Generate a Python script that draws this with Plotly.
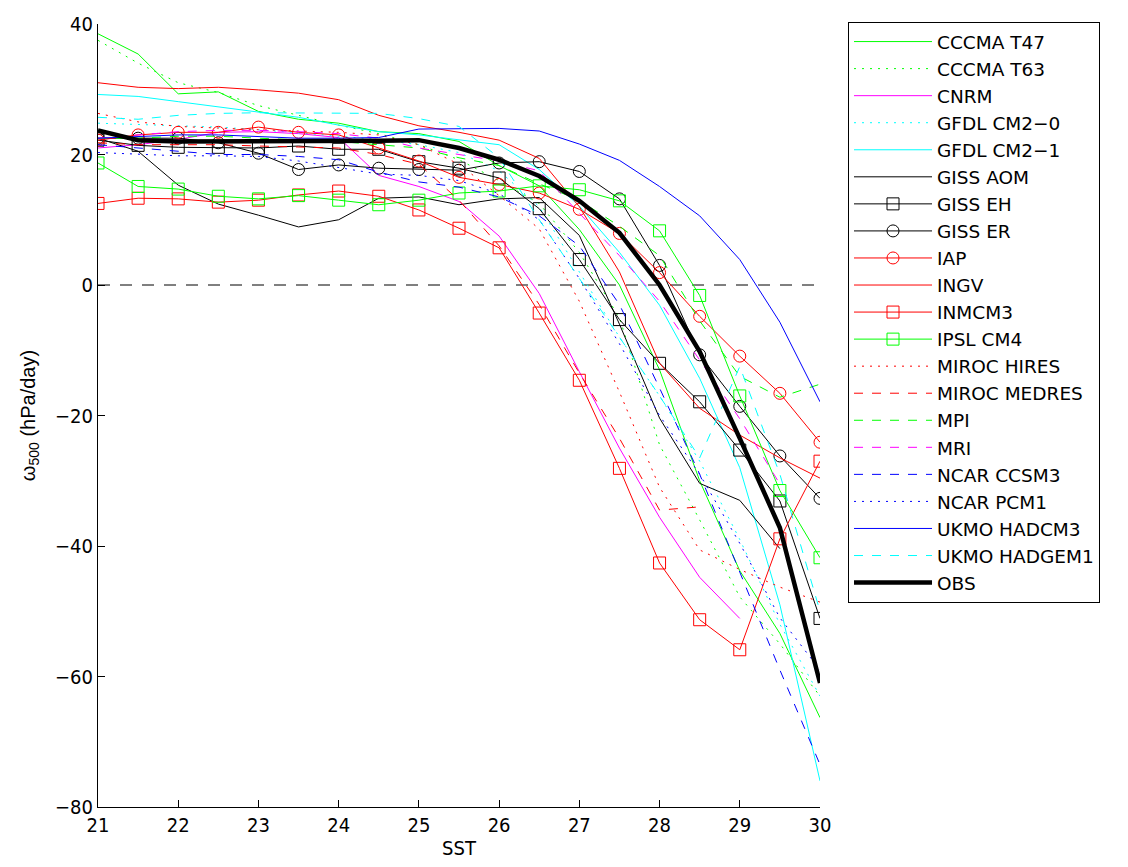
import plotly.graph_objects as go

sst = [21, 21.5, 22, 22.5, 23, 23.5, 24, 24.5, 25, 25.5, 26, 26.5, 27, 27.5, 28, 28.5, 29, 29.5, 30]

cccma_t47 = [38.5, 35.4, 29.3, 29.6, 26.6, 25.4, 24.8, 23.5, 23.2, 22.0, 18.3, 15.2, 8.5, 0.0, -13.0, -30.0, -43.8, -53.4, -66.3]
cccma_t63 = [37.5, 34.0, 31.0, 29.5, 27.5, 26.0, 24.5, 23.2, 21.5, 19.2, 16.0, 12.5, 5.0, -5.0, -24.5, -36.0, -47.8, -55.0, -63.0]
cnrm = [21.0, 21.5, 22.3, 23.4, 23.5, 23.2, 22.6, 16.8, 15.1, 12.8, 7.5, -1.3, -13.3, -25.0, -35.6, -44.8, -51.1, None, None]
gfdl_cm20 = [24.8, 24.6, 24.4, 24.2, 23.8, 23.3, 22.8, 22.3, 21.5, 20.3, 17.5, 12.0, 2.0, -8.0, -17.0, -27.0, -39.0, -52.0, -63.0]
gfdl_cm21 = [29.2, 28.9, 28.1, 27.3, 26.6, 25.7, 24.5, 23.5, 23.0, 22.3, 21.5, 17.7, 12.1, 5.0, -3.1, -14.3, -28.0, -49.0, -76.0]
giss_aom = [22.5, 20.5, 15.3, 12.4, 10.7, 8.9, 10.0, 13.3, 13.5, 12.3, 13.2, 13.4, 7.6, -6.0, -20.4, -30.4, -33.0, -40.4, None]
giss_eh = [22.2, 21.4, 21.1, 21.1, 21.0, 21.3, 20.8, 20.8, 18.9, 17.9, 16.4, 11.7, 3.9, -5.3, -12.0, -17.9, -25.3, -33.1, -51.1]
giss_er = [22.5, 22.5, 22.5, 21.8, 20.2, 17.7, 18.4, 17.9, 17.7, 17.6, 18.7, 18.9, 17.4, 13.2, 3.0, -10.7, -18.6, -26.2, -32.7]
iap = [22.2, 23.0, 23.4, 23.4, 24.2, 23.4, 23.0, 21.0, 19.0, 16.5, 15.4, 14.1, 11.6, 7.9, 1.9, -4.8, -10.9, -16.6, -24.1]
ingv = [31.0, 30.3, 30.1, 30.3, 29.9, 29.4, 28.4, 26.0, 24.4, 23.4, 22.2, 19.4, 12.0, 2.0, -12.0, -18.9, -23.0, -26.5, -29.6]
inmcm3 = [12.5, 13.3, 13.2, 12.7, 13.0, 13.8, 14.4, 13.6, 11.5, 8.7, 5.7, -4.3, -14.6, -28.1, -42.6, -51.3, -55.9, -38.9, -27.0]
ipsl_cm4 = [18.7, 15.1, 14.7, 13.6, 13.2, 13.7, 13.0, 12.3, 13.0, 14.1, 14.4, 15.2, 14.6, 12.9, 8.3, -1.6, -17.0, -31.5, -41.8]
miroc_hires = [26.3, 25.0, 24.3, 24.0, 23.8, 23.6, 23.4, 23.0, 21.5, 18.5, 13.7, 8.6, -2.5, -16.4, -31.0, -40.6, -43.6, -46.3, -48.6]
miroc_medres = [21.8, 21.5, 21.5, 21.5, 21.3, 21.2, 21.0, 20.0, 18.5, 13.0, 6.0, -3.0, -13.5, -23.5, -34.5, -34.0, None, None, None]
mpi = [22.5, 22.5, 22.8, 22.8, 22.5, 22.3, 22.0, 21.5, 21.0, 19.5, 18.3, 15.5, 13.0, 9.0, 4.5, -5.5, -14.0, -17.2, -15.2]
mri = [22.5, 23.0, 23.5, 23.7, 23.7, 23.5, 23.2, 22.5, 21.0, 20.0, 19.0, 17.5, 11.0, 4.5, -2.5, -11.5, -20.5, -30.5, None]
ncar_ccsm3 = [21.5, 21.0, 20.5, 20.0, 20.0, 19.7, 19.2, 17.3, 15.8, 15.0, 13.5, 10.6, 6.0, -3.0, -15.8, -29.0, -44.0, -59.0, -73.5]
ncar_pcm1 = [20.3, 20.0, 19.8, 19.8, 19.7, 19.0, 18.0, 17.0, 16.8, 16.0, 14.0, 10.0, 1.0, -9.0, -20.0, -29.0, -39.6, -51.0, -59.0]
ukmo_hadcm3 = [22.5, 22.7, 23.0, 23.0, 22.8, 22.5, 22.5, 22.6, 23.9, 23.9, 24.0, 23.6, 21.6, 19.1, 15.1, 10.6, 3.9, -5.7, -17.9]
ukmo_hadgem1 = [25.7, 25.4, 26.0, 26.3, 26.4, 26.4, 26.3, 26.3, 25.5, 24.3, 19.5, 10.0, 1.0, -8.0, -17.0, -26.5, -12.5, -29.0, -50.0]
obs = [23.7, 22.2, 22.0, 22.0, 22.1, 22.1, 22.1, 22.1, 22.2, 21.0, 19.2, 16.7, 12.9, 8.0, 0.0, -10.2, -23.5, -37.2, -61.0]

GREEN = "rgb(0,255,0)"
CYAN = "rgb(0,255,255)"
MAGENTA = "rgb(255,0,255)"
RED = "rgb(255,0,0)"
BLUE = "rgb(0,0,255)"
BLACK = "rgb(0,0,0)"
DOT = "2px,6px"
DASH = "9px,9px"

series = [
    ("CCCMA T47", cccma_t47, GREEN, "solid", None, 1),
    ("CCCMA T63", cccma_t63, GREEN, DOT, None, 1),
    ("CNRM", cnrm, MAGENTA, "solid", None, 1),
    ("GFDL CM2\u22120", gfdl_cm20, CYAN, DOT, None, 1),
    ("GFDL CM2\u22121", gfdl_cm21, CYAN, "solid", None, 1),
    ("GISS AOM", giss_aom, BLACK, "solid", None, 1),
    ("GISS EH", giss_eh, BLACK, "solid", "square-open", 1),
    ("GISS ER", giss_er, BLACK, "solid", "circle-open", 1),
    ("IAP", iap, RED, "solid", "circle-open", 1),
    ("INGV", ingv, RED, "solid", None, 1),
    ("INMCM3", inmcm3, RED, "solid", "square-open", 1),
    ("IPSL CM4", ipsl_cm4, GREEN, "solid", "square-open", 1),
    ("MIROC HIRES", miroc_hires, RED, DOT, None, 1),
    ("MIROC MEDRES", miroc_medres, RED, DASH, None, 1),
    ("MPI", mpi, GREEN, DASH, None, 1),
    ("MRI", mri, MAGENTA, DASH, None, 1),
    ("NCAR CCSM3", ncar_ccsm3, BLUE, DASH, None, 1),
    ("NCAR PCM1", ncar_pcm1, BLUE, DOT, None, 1),
    ("UKMO HADCM3", ukmo_hadcm3, BLUE, "solid", None, 1),
    ("UKMO HADGEM1", ukmo_hadgem1, CYAN, DASH, None, 1),
    ("OBS", obs, BLACK, "solid", None, 4.5),
]

fig = go.Figure()

# zero reference line
fig.add_trace(go.Scatter(x=[sst[0], sst[-1]], y=[0, 0], mode="lines",
                         line=dict(color=BLACK, width=1, dash="12px,10px"),
                         showlegend=False, hoverinfo="skip"))

for name, vals, color, dash, symbol, width in series:
    if symbol:
        fig.add_trace(go.Scatter(
            x=sst, y=vals, name=name, mode="lines+markers",
            line=dict(color=color, width=width, dash=dash),
            marker=dict(symbol=symbol, size=12, color=color, line=dict(color=color, width=1)),
        ))
    else:
        fig.add_trace(go.Scatter(
            x=sst, y=vals, name=name, mode="lines",
            line=dict(color=color, width=width, dash=dash),
        ))

tickfont = dict(family="Liberation Sans Narrow, DejaVu Sans Condensed, Liberation Sans, Arial", size=20, color="black")

fig.update_layout(
    width=1128, height=867, autosize=False,
    margin=dict(l=98, r=308, t=20, b=59),
    paper_bgcolor="white", plot_bgcolor="white",
    font=dict(family="Liberation Sans, Arial", size=20, color="black"),
    showlegend=True,
    legend=dict(
        x=1.0388, y=1.0025, xanchor="left", yanchor="top",
        bordercolor="black", borderwidth=1, bgcolor="white",
        font=dict(family="DejaVu Sans, Liberation Sans, Arial", size=18.5, color="black"),
        tracegroupgap=0, itemwidth=78, maxheight=760,
    ),
    xaxis=dict(
        range=[21, 30], dtick=1, tick0=21, showgrid=False, zeroline=False,
        showline=True, linecolor="black", linewidth=1,
        ticks="inside", ticklen=7, tickcolor="black",
        tickfont=tickfont,
        title=dict(text="SST", font=tickfont, standoff=4),
    ),
    yaxis=dict(
        range=[-80, 40], dtick=20, tick0=-80, showgrid=False, zeroline=False,
        showline=True, linecolor="black", linewidth=1,
        ticks="inside", ticklen=7, tickcolor="black",
        tickfont=tickfont,
        title=dict(text="\u03c9<sub>500</sub> (hPa/day)",
                   font=dict(family="Liberation Sans, Arial", size=20, color="black"), standoff=14),
    ),
)

fig.write_html("out.html")
